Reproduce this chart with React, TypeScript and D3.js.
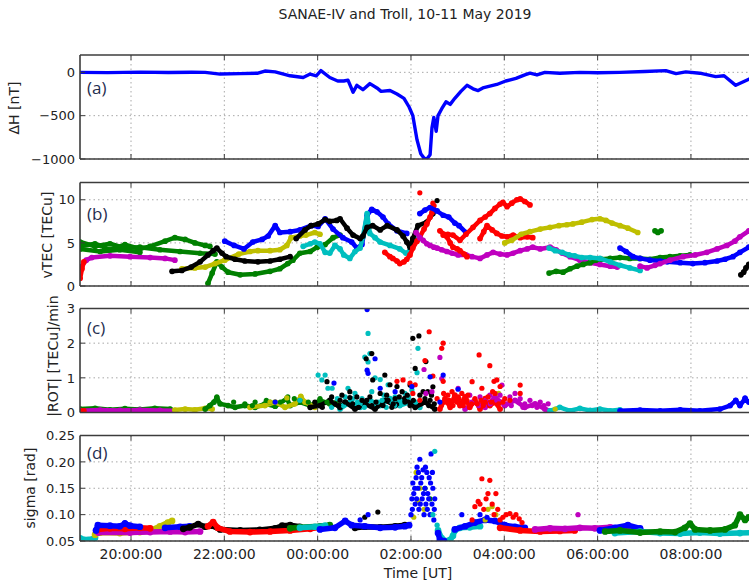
import React from 'react';
import * as d3 from 'd3';

type P = [number, number];

const TITLE = 'SANAE-IV and Troll, 10-11 May 2019';
const X_LABEL = 'Time [UT]';
// time in decimal hours since 10 May 00:00 UT
const X_DOMAIN: P = [18.907, 33.48];
const X_TICKS = [20, 22, 24, 26, 28, 30, 32];
const X_TICK_LABELS = ['20:00:00', '22:00:00', '00:00:00', '02:00:00', '04:00:00', '06:00:00', '08:00:00'];

const COL = { b: '#0000ff', g: '#008000', r: '#ff0000', c: '#00bfbf', m: '#bf00bf', y: '#bfbf00', k: '#000000' };

// ---------- (a) Delta H ----------
const DH_TICKS = [0, -500, -1000];
const DH_TICK_LABELS = ['0', '\u2212500', '\u22121000'];
const deltaH: P[] = [
  [18.91, 0], [19.5, -3], [20.2, 2], [20.8, -2], [21.3, 1], [21.59, 0], [21.91, -20], [22.34, -15], [22.72, -10],
  [22.87, 15], [23.09, 5], [23.41, -40], [23.69, -60], [23.84, -20], [23.97, -40], [24.07, 20], [24.26, -60],
  [24.43, -100], [24.56, -100], [24.65, -90], [24.76, -230], [24.84, -150], [24.97, -200], [25.12, -130],
  [25.27, -180], [25.36, -220], [25.55, -210], [25.70, -250], [25.85, -300], [25.96, -400], [26.04, -500],
  [26.13, -780], [26.21, -940], [26.28, -990], [26.34, -1000], [26.41, -950], [26.45, -640], [26.49, -520],
  [26.54, -680], [26.58, -500], [26.66, -420], [26.75, -340], [26.84, -370], [26.94, -300], [27.07, -220],
  [27.20, -150], [27.33, -190], [27.44, -210], [27.54, -180], [27.69, -160], [27.84, -140], [28.03, -100],
  [28.25, -70], [28.44, -30], [28.55, -10], [28.70, -30], [28.87, 0], [29.19, -10], [29.62, 0], [30.0, -5],
  [30.48, 0], [31.01, 10], [31.46, 20], [31.68, -15], [31.89, 5], [32.19, -10], [32.53, -50], [32.71, -40],
  [32.96, -150], [33.24, -80], [33.4, -40],
];

// ---------- (b) vTEC tracks ----------
const VTEC_TICKS = [0, 5, 10];
const vtecRed0: P[] = [[18.91, 0.9], [18.95, 2.0], [18.99, 2.8]];
const vtecMag1: P[] = [[18.93, 2.2], [19.04, 3.0], [19.16, 3.3], [19.55, 3.5], [19.98, 3.4], [20.41, 3.3], [20.73, 3.2], [20.94, 3.0]];
const vtecGrnA: P[] = [[18.91, 5.1], [19.23, 4.6], [19.55, 4.9], [19.87, 4.4], [20.19, 4.5], [20.62, 4.2], [21.05, 4.0], [21.48, 3.8], [21.80, 3.7]];
const vtecGrnB: P[] = [[18.91, 4.6], [19.23, 4.9], [19.55, 4.2], [19.87, 4.8], [20.19, 4.3], [20.41, 4.6], [20.73, 5.2], [20.94, 5.6], [21.16, 5.4], [21.37, 5.0], [21.59, 4.7], [21.69, 4.6]];
const vtecGrnC: P[] = [[18.91, 4.3], [19.34, 4.0], [19.76, 4.2], [20.19, 3.9]];
const vtecBlk1: P[] = [[20.88, 1.7], [21.09, 1.8], [21.29, 2.2], [21.48, 2.8], [21.65, 3.6], [21.76, 4.1], [21.84, 4.4], [21.95, 3.8], [22.04, 3.4], [22.23, 3.1], [22.44, 2.9], [22.72, 2.8], [22.98, 2.9], [23.19, 3.1], [23.41, 3.4]];
const vtecBlk2: P[] = [[23.54, 5.5], [23.73, 6.5], [23.86, 7.0], [24.01, 7.2], [24.16, 7.7], [24.26, 7.5], [24.41, 7.6], [24.48, 7.8], [24.63, 6.7], [24.76, 5.9], [24.91, 5.5], [24.97, 5.8], [25.06, 6.8], [25.18, 7.0], [25.34, 6.5], [25.49, 7.0], [25.70, 6.5], [25.83, 5.8], [25.91, 5.1], [25.98, 4.5], [26.04, 5.5], [26.15, 7.0], [26.34, 7.4], [26.47, 8.4]];
const vtecYel1: P[] = [[21.09, 2.0], [21.37, 2.1], [21.59, 2.2], [21.80, 2.6], [22.01, 3.0], [22.31, 3.7], [22.55, 4.0], [22.72, 4.1], [22.98, 4.1], [23.19, 4.2], [23.34, 4.7], [23.43, 5.6], [23.62, 5.8], [23.75, 5.9], [23.94, 6.2], [24.05, 6.0]];
const vtecBlu1: P[] = [[22.01, 5.2], [22.21, 4.7], [22.42, 4.3], [22.61, 5.1], [22.81, 5.4], [22.94, 5.8], [23.09, 7.0], [23.19, 6.2], [23.41, 6.3], [23.62, 6.5], [23.86, 7.0], [24.01, 6.9], [24.16, 7.8], [24.33, 6.6], [24.54, 5.6], [24.73, 5.1], [24.84, 4.4], [24.95, 4.8], [25.06, 8.2], [25.16, 8.9], [25.27, 8.6], [25.40, 8.0], [25.51, 7.2], [25.70, 6.4], [25.91, 6.1]];
const vtecBlu2: P[] = [[26.19, 8.4], [26.30, 8.8], [26.41, 9.1], [26.56, 8.7], [26.69, 8.2], [26.81, 8.0], [26.94, 7.3], [27.03, 7.0], [27.18, 6.2]];
const vtecGrn2: P[] = [[21.65, 0.3], [21.74, 1.5], [21.84, 2.8], [21.95, 2.2], [22.08, 1.6], [22.34, 1.3], [22.66, 1.4], [22.98, 1.7], [23.19, 2.0], [23.36, 2.6], [23.47, 3.0], [23.62, 3.8], [23.84, 4.0], [23.99, 4.5], [24.16, 4.8], [24.33, 5.6], [24.48, 5.9]];
const vtecCyn1: P[] = [[23.69, 4.6], [23.84, 4.9], [23.94, 5.1], [24.05, 4.9], [24.16, 3.9], [24.26, 3.8], [24.37, 4.7], [24.48, 4.3], [24.56, 3.6], [24.69, 3.2], [24.80, 4.0], [24.91, 4.4], [24.97, 5.7], [25.06, 8.4], [25.12, 6.1], [25.23, 5.6], [25.34, 5.1], [25.55, 4.7], [25.76, 4.3], [25.89, 3.8], [25.98, 4.1], [26.04, 4.6], [26.13, 5.7]];
const vtecRed1: P[] = [[25.44, 3.9], [25.55, 3.4], [25.61, 3.2], [25.70, 2.9], [25.76, 2.6], [25.85, 2.8], [25.91, 3.1], [25.98, 3.6], [26.04, 4.4], [26.13, 5.2], [26.19, 5.7], [26.28, 6.6], [26.34, 7.2], [26.41, 8.0], [26.45, 8.5], [26.49, 9.3]];
const vtecRed2: P[] = [[26.62, 6.4], [26.71, 6.0], [26.77, 5.7], [26.84, 5.0], [26.90, 4.5], [26.99, 4.3], [27.05, 4.1], [27.14, 3.7], [27.20, 3.4]];
const vtecRed3: P[] = [[26.69, 5.9], [26.79, 6.0], [26.90, 5.9], [27.05, 5.3], [27.18, 6.0], [27.33, 6.8], [27.48, 7.6], [27.59, 8.0], [27.69, 8.4], [27.80, 9.0], [27.91, 9.5], [27.97, 9.7], [28.06, 9.2], [28.16, 9.6], [28.27, 10.0], [28.34, 10.1], [28.44, 9.8], [28.55, 9.4]];
const vtecRed4: P[] = [[27.48, 5.5], [27.56, 6.3], [27.63, 7.0], [27.74, 6.5], [27.84, 6.1], [27.95, 5.8], [28.06, 5.7], [28.19, 5.9], [28.34, 5.6], [28.49, 5.7], [28.61, 5.6]];
const vtecMag2: P[] = [[26.11, 6.2], [26.19, 5.6], [26.26, 5.3], [26.34, 4.9], [26.41, 4.7], [26.49, 4.5], [26.56, 4.4], [26.66, 4.2], [26.77, 4.0], [26.88, 3.8], [27.01, 3.6], [27.18, 3.6], [27.31, 3.4], [27.48, 3.2], [27.63, 3.6], [27.76, 3.9], [27.91, 3.7], [28.06, 3.6], [28.19, 3.8], [28.34, 4.1], [28.49, 4.3], [28.61, 4.5], [28.77, 4.3], [28.98, 4.5], [29.11, 4.2], [29.24, 3.8], [29.41, 3.4], [29.62, 3.0], [29.84, 2.7], [30.05, 2.5], [30.27, 2.3], [30.42, 2.2]];
const vtecMag3: P[] = [[30.91, 2.3], [31.06, 2.1], [31.23, 2.4], [31.34, 2.6], [31.55, 3.0], [31.83, 3.4], [32.09, 3.6], [32.34, 3.9], [32.56, 4.3], [32.77, 4.7], [32.94, 5.2], [33.05, 5.7], [33.24, 6.4], [33.4, 6.9]];
const vtecYel2: P[] = [[28.01, 5.0], [28.16, 5.3], [28.36, 6.0], [28.55, 6.3], [28.77, 6.6], [28.98, 6.8], [29.17, 7.0], [29.34, 7.1], [29.47, 7.2], [29.66, 7.4], [29.88, 7.7], [30.05, 7.8], [30.18, 7.6], [30.31, 7.3], [30.48, 7.0], [30.65, 6.7], [30.86, 6.2]];
const vtecCyn2: P[] = [[28.96, 4.4], [29.09, 4.1], [29.24, 3.9], [29.39, 3.6], [29.51, 3.5], [29.66, 3.3], [29.84, 3.3], [30.05, 3.2], [30.27, 2.8], [30.48, 2.4], [30.69, 2.1], [30.91, 1.8]];
const vtecGrn3: P[] = [[28.96, 1.5], [29.11, 1.7], [29.26, 1.6], [29.41, 2.0], [29.56, 2.3], [29.69, 2.5], [29.84, 2.7], [29.96, 3.0], [30.09, 3.1], [30.27, 3.2], [30.48, 3.3], [30.69, 3.2], [30.91, 3.2], [31.12, 3.1], [31.34, 3.3], [31.55, 3.4], [31.77, 3.5], [31.98, 3.6]];
const vtecGrn4: P[] = [[31.23, 6.4], [31.29, 6.2], [31.36, 6.4]];
const vtecBlu3: P[] = [[30.48, 4.4], [30.61, 4.0], [30.76, 3.4], [30.91, 3.2], [31.12, 3.0], [31.34, 2.9], [31.49, 2.8], [31.77, 2.7], [32.04, 2.6], [32.30, 2.7], [32.56, 2.9], [32.73, 3.1], [32.90, 3.4], [33.05, 3.9], [33.24, 4.5], [33.4, 4.9]];
const vtecBlk3: P[] = [[33.07, 1.3], [33.13, 1.6], [33.18, 2.1], [33.24, 2.5], [33.35, 2.8]];
const vtecRedDots: P[] = [[26.19, 10.8], [26.47, 9.6]];
const vtecBlkDots: P[] = [[26.56, 9.9]];

// ---------- (c) |ROT| ----------
const ROT_TICKS = [0, 1, 2, 3];
const rotMag0: P[] = [[18.91, 0.05], [19.34, 0.07], [19.76, 0.06], [20.19, 0.07], [20.62, 0.06], [20.94, 0.05]];
const rotGrn0: P[] = [[18.91, 0.1], [19.23, 0.12], [19.55, 0.08], [19.87, 0.11], [20.19, 0.09], [20.51, 0.12], [20.84, 0.1]];
const rotRed0: P[] = [[18.91, 0.04], [18.99, 0.05]];
const rotYel0: P[] = [[20.94, 0.07], [21.16, 0.1], [21.37, 0.08], [21.59, 0.12], [21.74, 0.1]];
const rotGrn1: P[] = [[21.59, 0.1], [21.69, 0.2], [21.78, 0.3], [21.84, 0.42], [21.91, 0.25], [22.08, 0.2], [22.23, 0.15], [22.44, 0.2], [22.66, 0.15], [22.87, 0.25], [23.09, 0.18], [23.34, 0.4], [23.41, 0.2], [23.62, 0.3], [23.84, 0.2], [24.05, 0.35], [24.26, 0.25], [24.48, 0.2]];
const rotYel1: P[] = [[22.55, 0.15], [22.87, 0.2], [23.09, 0.3], [23.30, 0.15], [23.51, 0.25], [23.64, 0.45], [23.73, 0.3], [23.94, 0.15]];
const rotBlk: P[] = [[23.84, 0.15], [24.05, 0.2], [24.26, 0.35], [24.48, 0.15], [24.59, 0.3], [24.80, 0.1], [25.01, 0.25], [25.23, 0.1], [25.44, 0.35], [25.66, 0.2], [25.87, 0.4], [26.09, 0.15], [26.30, 0.3], [26.51, 0.1]];
const rotCyn: P[] = [[24.48, 0.1], [24.69, 0.3], [24.91, 0.15], [25.12, 0.35], [25.34, 0.2], [25.55, 0.4], [25.76, 0.2], [25.98, 0.3], [26.19, 0.15]];
const rotRed: P[] = [[26.62, 0.1], [26.73, 0.4], [26.84, 0.15], [26.94, 0.5], [27.05, 0.2], [27.16, 0.45], [27.26, 0.15], [27.37, 0.35], [27.48, 0.1], [27.59, 0.4], [27.69, 0.2], [27.80, 0.3], [27.91, 0.1]];
const rotMag1: P[] = [[27.16, 0.1], [27.37, 0.3], [27.59, 0.15], [27.80, 0.45], [28.01, 0.2], [28.23, 0.35], [28.44, 0.15], [28.66, 0.25], [28.87, 0.1], [28.98, 0.05]];
const rotCyn2: P[] = [[28.98, 0.05], [29.19, 0.15], [29.41, 0.05], [29.62, 0.12], [29.84, 0.06], [30.05, 0.1], [30.27, 0.05], [30.48, 0.08]];
const rotBlu: P[] = [[30.48, 0.05], [30.91, 0.07], [31.34, 0.05], [31.77, 0.08], [32.19, 0.05], [32.62, 0.1], [32.84, 0.2], [32.96, 0.35], [33.05, 0.2], [33.16, 0.4], [33.24, 0.3], [33.4, 0.2]];
const rotCynDots: P[] = [[24.01, 1.08], [24.16, 1.08], [24.09, 0.94], [24.22, 0.7], [24.31, 0.7], [24.65, 0.7], [25.08, 2.28], [25.12, 1.7], [25.01, 1.6], [25.08, 1.46], [25.23, 1.0], [25.34, 0.95], [25.51, 0.8], [26.15, 1.85], [26.13, 1.15], [23.62, 0.35], [24.59, 0.45], [24.80, 0.55], [24.95, 0.4], [25.16, 0.6], [25.42, 0.5], [25.66, 0.45], [25.87, 0.55], [26.02, 0.65], [24.91, 0.25], [25.29, 0.3], [25.59, 0.3], [25.76, 0.35], [24.3, 0.15], [24.42, 0.4], [24.55, 0.2], [24.75, 0.4], [24.85, 0.3], [25.0, 0.15], [25.2, 0.25], [25.38, 0.35], [25.47, 0.15], [25.65, 0.2], [25.8, 0.25], [25.95, 0.45], [26.1, 0.3]];
const rotBlkDots: P[] = [[24.20, 0.89], [24.69, 0.6], [24.69, 0.43], [24.52, 0.5], [25.04, 1.55], [25.16, 1.7], [25.18, 0.94], [25.44, 1.08], [25.55, 0.8], [26.04, 2.14], [26.17, 2.21], [26.32, 1.47], [26.09, 1.27], [26.47, 0.74], [26.36, 0.6], [25.98, 0.79], [25.70, 0.75], [24.48, 0.35], [24.84, 0.45], [24.95, 0.35], [25.34, 0.55], [25.66, 0.4], [25.81, 0.6], [26.19, 0.5], [26.30, 0.4], [26.41, 0.35], [25.87, 0.3], [25.51, 0.35], [25.12, 0.45], [24.37, 0.25], [23.94, 0.3], [24.59, 0.3], [25.16, 0.2], [25.59, 0.15], [25.98, 0.2], [24.1, 0.15], [24.3, 0.45], [24.45, 0.2], [24.75, 0.25], [24.88, 0.15], [25.05, 0.35], [25.25, 0.3], [25.4, 0.2], [25.48, 0.5], [25.62, 0.25], [25.75, 0.45], [25.92, 0.5], [26.05, 0.35], [26.22, 0.25], [26.26, 0.6], [26.38, 0.2], [26.44, 0.5], [26.5, 0.25]];
const rotBluDots: P[] = [[25.06, 2.97], [25.06, 1.22], [25.08, 1.13], [25.23, 1.55], [25.34, 0.7], [26.41, 1.03], [26.69, 1.08], [26.62, 0.3], [27.01, 0.67], [24.35, 0.85], [23.09, 0.3], [25.66, 0.6], [32.96, 0.35], [33.16, 0.42], [33.05, 0.25], [26.02, 0.75]];
const rotRedDots: P[] = [[26.39, 2.33], [26.69, 2.0], [26.66, 1.85], [26.30, 1.5], [26.47, 1.05], [26.69, 0.9], [25.83, 0.94], [25.98, 0.85], [25.70, 0.9], [26.09, 0.8], [27.46, 1.66], [27.69, 1.35], [27.84, 0.94], [27.78, 0.9], [27.31, 0.89], [27.52, 0.7], [28.34, 0.79], [28.34, 0.55], [27.91, 0.75], [26.88, 0.6], [26.79, 0.5], [27.01, 0.45], [27.09, 0.55], [27.22, 0.5], [27.37, 0.4], [27.65, 0.45], [27.80, 0.55], [28.01, 0.4], [28.12, 0.35], [26.56, 0.4], [26.19, 0.35], [26.73, 0.3], [26.94, 0.35], [27.16, 0.3], [27.59, 0.3], [26.04, 0.55], [26.65, 0.2], [26.7, 0.55], [26.82, 0.35], [26.9, 0.2], [26.98, 0.3], [27.03, 0.4], [27.12, 0.2], [27.2, 0.35], [27.3, 0.25], [27.42, 0.25], [27.5, 0.35], [27.55, 0.2], [27.72, 0.3], [27.75, 0.6], [27.88, 0.25], [27.97, 0.3]];
const rotMagDots: P[] = [[26.62, 1.59], [26.28, 1.24], [26.66, 0.98], [26.32, 0.55], [27.95, 0.79], [27.01, 0.7], [27.26, 0.5], [27.48, 0.45], [27.69, 0.5], [27.91, 0.5], [28.12, 0.45], [28.34, 0.4], [28.55, 0.35], [28.77, 0.3], [28.23, 0.55], [27.84, 0.35], [28.44, 0.25], [28.94, 0.25], [26.45, 0.6], [27.3, 0.3], [27.45, 0.2], [27.6, 0.35], [27.7, 0.25], [27.95, 0.3], [28.05, 0.25], [28.15, 0.2], [28.3, 0.3], [28.4, 0.15], [28.6, 0.2], [28.7, 0.15], [28.85, 0.2]];
const rotYelDots: P[] = [[23.64, 0.47], [23.34, 0.42], [27.88, 0.55], [22.98, 0.3], [29.09, 0.1]];
const rotGrnDots: P[] = [[21.84, 0.45], [23.36, 0.45], [22.98, 0.3], [23.62, 0.35], [24.05, 0.4], [22.44, 0.25], [22.66, 0.3], [22.2, 0.3], [22.6, 0.2], [22.9, 0.35], [23.2, 0.3], [23.5, 0.4], [23.8, 0.3], [24.2, 0.3], [24.4, 0.3]];

// ---------- (d) sigma phi ----------
const SIG_TICKS = [0.05, 0.1, 0.15, 0.2, 0.25];
const sigCyn0: P[] = [[18.91, 0.055], [19.08, 0.052], [19.23, 0.056]];
const sigBlu1: P[] = [[19.25, 0.07], [19.29, 0.08], [19.55, 0.079], [19.76, 0.078], [19.87, 0.083], [19.98, 0.079], [20.19, 0.077]];
const sigRed1: P[] = [[19.29, 0.072], [19.55, 0.074], [19.87, 0.073], [20.19, 0.075], [20.41, 0.074]];
const sigYel1: P[] = [[19.23, 0.062], [19.34, 0.066], [19.76, 0.065], [20.19, 0.067], [20.41, 0.07], [20.62, 0.078], [20.79, 0.085], [20.88, 0.088]];
const sigMag1: P[] = [[19.30, 0.066], [19.98, 0.066], [20.41, 0.067], [20.84, 0.068], [21.16, 0.067], [21.48, 0.068]];
const sigBlu2: P[] = [[20.73, 0.075], [21.05, 0.077], [21.26, 0.078]];
const sigBlk1: P[] = [[21.12, 0.073], [21.26, 0.076], [21.44, 0.082], [21.59, 0.077], [21.74, 0.079], [21.91, 0.072], [22.34, 0.07], [22.76, 0.071], [23.09, 0.074], [23.24, 0.079], [23.41, 0.08], [23.62, 0.077]];
const sigRed2: P[] = [[21.65, 0.078], [21.76, 0.086], [21.86, 0.075], [22.12, 0.068], [22.55, 0.067], [22.98, 0.068], [23.41, 0.07], [23.84, 0.073], [24.05, 0.076], [24.16, 0.078]];
const sigCyn1: P[] = [[23.62, 0.075], [23.94, 0.077], [24.16, 0.079]];
const sigGrn1: P[] = [[23.41, 0.074], [23.62, 0.076], [24.05, 0.078], [24.26, 0.08]];
const sigBlu3: P[] = [[24.05, 0.072], [24.37, 0.075], [24.59, 0.088], [24.73, 0.08], [25.01, 0.078], [25.34, 0.075], [25.66, 0.076], [25.87, 0.078], [25.96, 0.08]];
const sigBlk2: P[] = [[24.80, 0.075], [25.01, 0.077], [25.34, 0.076], [25.66, 0.078], [25.87, 0.08]];
const sigCyn2: P[] = [[26.58, 0.07], [26.66, 0.055], [26.75, 0.05], [26.84, 0.052], [26.90, 0.06], [26.94, 0.07], [27.05, 0.075], [27.26, 0.076], [27.48, 0.078]];
const sigBlu4: P[] = [[26.58, 0.065], [26.62, 0.052], [26.71, 0.05]];
const sigBlu5: P[] = [[26.94, 0.072], [27.16, 0.078], [27.37, 0.085], [27.59, 0.09], [27.80, 0.088], [28.01, 0.08], [28.23, 0.077], [28.44, 0.075]];
const sigRed3: P[] = [[27.91, 0.075], [28.34, 0.07], [28.77, 0.068], [29.19, 0.069], [29.51, 0.07]];
const sigMag2: P[] = [[28.66, 0.072], [28.98, 0.074], [29.30, 0.073], [29.62, 0.075], [29.94, 0.074], [30.27, 0.076], [30.59, 0.073], [30.91, 0.072]];
const sigBlu6: P[] = [[30.05, 0.07], [30.37, 0.075], [30.65, 0.08], [30.91, 0.074]];
const sigCyn3: P[] = [[30.37, 0.065], [30.91, 0.068], [31.34, 0.065], [31.77, 0.064], [32.19, 0.066], [32.62, 0.064], [33.05, 0.065], [33.4, 0.066]];
const sigGrn2: P[] = [[30.16, 0.068], [30.48, 0.07], [30.91, 0.066], [31.34, 0.068], [31.66, 0.067], [31.87, 0.075], [31.98, 0.083], [32.09, 0.072], [32.41, 0.07], [32.73, 0.072], [32.94, 0.08], [33.05, 0.1], [33.16, 0.09], [33.24, 0.095], [33.4, 0.09]];
const sigBluDots: P[] = [[25.08, 0.1], [24.91, 0.09], [26.00, 0.1], [26.02, 0.13], [26.04, 0.16], [26.06, 0.14], [26.09, 0.12], [26.11, 0.17], [26.13, 0.19], [26.15, 0.15], [26.17, 0.11], [26.19, 0.205], [26.21, 0.16], [26.24, 0.13], [26.26, 0.185], [26.28, 0.1], [26.30, 0.15], [26.32, 0.12], [26.34, 0.18], [26.36, 0.14], [26.39, 0.17], [26.41, 0.1], [26.43, 0.215], [26.45, 0.12], [26.47, 0.15], [26.49, 0.09], [26.51, 0.13], [27.09, 0.1], [27.48, 0.1], [27.63, 0.095], [19.87, 0.085], [26.03, 0.11], [26.08, 0.15], [26.12, 0.13], [26.16, 0.18], [26.2, 0.12], [26.23, 0.17], [26.27, 0.14], [26.31, 0.19], [26.35, 0.11], [26.38, 0.13], [26.42, 0.16], [26.46, 0.18], [26.5, 0.11]];
const sigYelDots: P[] = [[26.11, 0.18], [26.15, 0.125], [26.19, 0.15], [26.28, 0.11], [26.06, 0.095], [27.65, 0.11], [27.74, 0.115], [27.82, 0.1], [27.59, 0.09]];
const sigGrnDots: P[] = [[26.30, 0.15], [26.41, 0.13]];
const sigCynDots: P[] = [[26.51, 0.22], [26.47, 0.1], [26.56, 0.08]];
const sigBlkDots: P[] = [[25.29, 0.105], [25.01, 0.095]];
const sigRedDots: P[] = [[27.31, 0.09], [27.37, 0.115], [27.44, 0.125], [27.48, 0.12], [27.52, 0.168], [27.56, 0.11], [27.61, 0.13], [27.65, 0.14], [27.69, 0.165], [27.74, 0.12], [27.78, 0.1], [27.82, 0.14], [27.86, 0.11], [27.91, 0.09], [27.97, 0.095], [28.04, 0.1], [28.12, 0.102], [28.19, 0.095], [28.25, 0.1], [28.32, 0.092], [28.38, 0.085]];
const sigMagDots: P[] = [[29.58, 0.1]];

type Track = { pts: P[]; color: string };
type Dots = { pts: P[]; color: string };

const PANEL_B_TRACKS: Track[] = [
  { pts: vtecGrnC, color: COL.g }, { pts: vtecGrnA, color: COL.g }, { pts: vtecGrnB, color: COL.g },
  { pts: vtecMag1, color: COL.m }, { pts: vtecRed0, color: COL.r },
  { pts: vtecGrn2, color: COL.g }, { pts: vtecYel1, color: COL.y }, { pts: vtecBlk1, color: COL.k },
  { pts: vtecBlu1, color: COL.b }, { pts: vtecCyn1, color: COL.c }, { pts: vtecBlk2, color: COL.k },
  { pts: vtecRed1, color: COL.r }, { pts: vtecBlu2, color: COL.b }, { pts: vtecMag2, color: COL.m },
  { pts: vtecRed2, color: COL.r }, { pts: vtecRed3, color: COL.r }, { pts: vtecRed4, color: COL.r },
  { pts: vtecYel2, color: COL.y }, { pts: vtecGrn3, color: COL.g }, { pts: vtecCyn2, color: COL.c },
  { pts: vtecGrn4, color: COL.g }, { pts: vtecBlu3, color: COL.b }, { pts: vtecMag3, color: COL.m },
  { pts: vtecBlk3, color: COL.k },
];
const PANEL_B_DOTS: Dots[] = [{ pts: vtecRedDots, color: COL.r }, { pts: vtecBlkDots, color: COL.k }];

const PANEL_C_TRACKS: Track[] = [
  { pts: rotGrn0, color: COL.g }, { pts: rotMag0, color: COL.m }, { pts: rotRed0, color: COL.r },
  { pts: rotYel0, color: COL.y }, { pts: rotGrn1, color: COL.g }, { pts: rotYel1, color: COL.y },
  { pts: rotCyn, color: COL.c }, { pts: rotBlk, color: COL.k }, { pts: rotMag1, color: COL.m },
  { pts: rotRed, color: COL.r }, { pts: rotCyn2, color: COL.c }, { pts: rotBlu, color: COL.b },
];
const PANEL_C_DOTS: Dots[] = [
  { pts: rotGrnDots, color: COL.g }, { pts: rotYelDots, color: COL.y }, { pts: rotCynDots, color: COL.c },
  { pts: rotBlkDots, color: COL.k }, { pts: rotMagDots, color: COL.m }, { pts: rotRedDots, color: COL.r },
  { pts: rotBluDots, color: COL.b },
];

const PANEL_D_TRACKS: Track[] = [
  { pts: sigCyn0, color: COL.c }, { pts: sigYel1, color: COL.y }, { pts: sigMag1, color: COL.m },
  { pts: sigRed1, color: COL.r }, { pts: sigBlu1, color: COL.b }, { pts: sigBlu2, color: COL.b },
  { pts: sigBlk1, color: COL.k }, { pts: sigRed2, color: COL.r }, { pts: sigGrn1, color: COL.g },
  { pts: sigCyn1, color: COL.c }, { pts: sigBlk2, color: COL.k }, { pts: sigBlu3, color: COL.b },
  { pts: sigCyn2, color: COL.c }, { pts: sigBlu4, color: COL.b }, { pts: sigBlu5, color: COL.b },
  { pts: sigRed3, color: COL.r }, { pts: sigMag2, color: COL.m }, { pts: sigBlu6, color: COL.b },
  { pts: sigCyn3, color: COL.c }, { pts: sigGrn2, color: COL.g },
];
const PANEL_D_DOTS: Dots[] = [
  { pts: sigBlkDots, color: COL.k }, { pts: sigGrnDots, color: COL.g }, { pts: sigYelDots, color: COL.y },
  { pts: sigBluDots, color: COL.b }, { pts: sigCynDots, color: COL.c }, { pts: sigRedDots, color: COL.r },
  { pts: sigMagDots, color: COL.m },
];

const FONT = 'DejaVu Sans, sans-serif';

type Panel = {
  top: number; bottom: number; domain: P; ticks: number[]; tickLabels: string[];
  ylabel: string; ylabelX: number; ylabelY: number; tag: string; tagY: number;
  tracks: Track[]; dots: Dots[]; trackWidth: number; line?: P[];
};

export default function App() {
  const W = 749, H = 585;
  const L = 80, R = 760;
  const x = d3.scaleLinear().domain(X_DOMAIN).range([L, R]);

  const panels: Panel[] = [
    { top: 55, bottom: 159, domain: [-1000, 200], ticks: DH_TICKS, tickLabels: DH_TICK_LABELS, ylabel: '\u0394H [nT]', ylabelX: 19, ylabelY: 108, tag: '(a)', tagY: 94, tracks: [], dots: [], trackWidth: 3, line: deltaH },
    { top: 182.5, bottom: 286, domain: [0, 12], ticks: VTEC_TICKS, tickLabels: VTEC_TICKS.map(String), ylabel: 'vTEC [TECu]', ylabelX: 52, ylabelY: 235, tag: '(b)', tagY: 220, tracks: PANEL_B_TRACKS, dots: PANEL_B_DOTS, trackWidth: 4.5 },
    { top: 308.5, bottom: 412.5, domain: [0, 3], ticks: ROT_TICKS, tickLabels: ROT_TICKS.map(String), ylabel: '|ROT| [TECu]/min', ylabelX: 58, ylabelY: 356, tag: '(c)', tagY: 334, tracks: PANEL_C_TRACKS, dots: PANEL_C_DOTS, trackWidth: 4.5 },
    { top: 435.5, bottom: 541, domain: [0.05, 0.25], ticks: SIG_TICKS, tickLabels: SIG_TICKS.map((v) => v.toFixed(2)), ylabel: 'sigma [rad]', ylabelX: 35, ylabelY: 488, tag: '(d)', tagY: 459, tracks: PANEL_D_TRACKS, dots: PANEL_D_DOTS, trackWidth: 5.5 },
  ];

  return (
    <svg width={W} height={H} style={{ position: 'absolute', left: 0, top: 0, background: '#fff' }} fontFamily={FONT}>
      <rect x={0} y={0} width={W} height={H} fill="#fff" />
      <text x={405} y={19} textAnchor="middle" fontSize={14} fill="#222">{TITLE}</text>
      {panels.map((p, i) => {
        const y = d3.scaleLinear().domain(p.domain).range([p.bottom, p.top]);
        const line = d3.line<P>().x((d) => x(d[0])).y((d) => y(d[1]));
        const clipId = `clip${i}`;
        const isLast = i === panels.length - 1;
        return (
          <g key={i}>
            <defs>
              <clipPath id={clipId}>
                <rect x={L} y={p.top} width={R - L} height={p.bottom - p.top} />
              </clipPath>
            </defs>
            <g stroke="#a8a8a8" strokeWidth={1} strokeDasharray="1.5,3">
              {X_TICKS.map((t) => (
                <line key={'gx' + t} x1={x(t)} x2={x(t)} y1={p.top} y2={p.bottom} />
              ))}
              {p.ticks.map((t) => (
                <line key={'gy' + t} x1={L} x2={R} y1={y(t)} y2={y(t)} />
              ))}
            </g>
            <g clipPath={`url(#${clipId})`}>
              {p.line && (
                <path d={line(p.line) || ''} fill="none" stroke={COL.b} strokeWidth={3.4} strokeLinejoin="round" />
              )}
              {p.tracks.map((tr, k) => (
                <g key={'t' + k}>
                  <path d={line(tr.pts) || ''} fill="none" stroke={tr.color} strokeWidth={p.trackWidth} strokeLinejoin="round" strokeLinecap="round" />
                  {tr.pts.map((d, j) => (
                    <circle key={j} cx={x(d[0])} cy={y(d[1])} r={p.trackWidth / 2 + 0.6} fill={tr.color} />
                  ))}
                </g>
              ))}
              {p.dots.map((ds, k) => (
                <g key={'d' + k} fill={ds.color}>
                  {ds.pts.map((d, j) => (
                    <circle key={j} cx={x(d[0])} cy={y(d[1])} r={2.6} />
                  ))}
                </g>
              ))}
            </g>
            <g stroke="#3c3c3c" strokeWidth={1.6} fill="none">
              <line x1={L} x2={R} y1={p.top} y2={p.top} />
              <line x1={L} x2={R} y1={p.bottom} y2={p.bottom} />
              <line x1={L} x2={L} y1={p.top} y2={p.bottom} />
            </g>
            <g stroke="#3c3c3c" strokeWidth={1}>
              {X_TICKS.map((t) => (
                <g key={'tx' + t}>
                  <line x1={x(t)} x2={x(t)} y1={p.bottom} y2={p.bottom - 5} />
                  <line x1={x(t)} x2={x(t)} y1={p.top} y2={p.top + 5} />
                </g>
              ))}
              {p.ticks.map((t) => (
                <line key={'ty' + t} x1={L} x2={L + 5} y1={y(t)} y2={y(t)} />
              ))}
            </g>
            {p.ticks.map((t, k) => (
              <text key={'yl' + t} x={75} y={y(t)} dy="0.36em" textAnchor="end" fontSize={13} fill="#222">{p.tickLabels[k]}</text>
            ))}
            <text transform={`translate(${p.ylabelX},${p.ylabelY}) rotate(-90)`} textAnchor="middle" fontSize={14} fill="#222">{p.ylabel}</text>
            <text x={87} y={p.tagY} fontSize={17} fill="#1f2d4f" fontFamily="Open Sans, sans-serif">{p.tag}</text>
            {isLast && X_TICKS.map((t, k) => (
              <text key={'xl' + t} x={x(t)} y={559} textAnchor="middle" fontSize={14} fill="#222">{X_TICK_LABELS[k]}</text>
            ))}
          </g>
        );
      })}
      <text x={418} y={578} textAnchor="middle" fontSize={14} fill="#222">{X_LABEL}</text>
    </svg>
  );
}
